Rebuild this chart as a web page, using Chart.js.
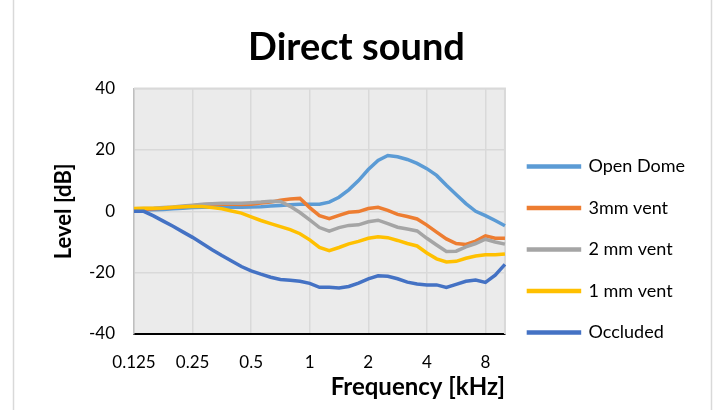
<!DOCTYPE html>
<html lang="en">
<head>
  <meta charset="UTF-8" />
  <title>Direct sound</title>
  <!-- Chart.js -->
  <script src="https://cdn.jsdelivr.net/npm/chart.js"></script>
  <style>
    html, body {
      margin: 0;
      padding: 0;
      background: #ffffff;
    }
    #wrap {
      width: 718px;
      height: 410px;
      position: relative;
    }
  </style>
</head>
<body>
  <div id="wrap">
    <canvas id="directChart"></canvas>
  </div>

  <script>
    // Frequencies in kHz, 1/6 octave steps
    const freqLabels = [
      0.125, 0.140, 0.157, 0.177, 0.198, 0.223,
      0.25, 0.281, 0.315, 0.354, 0.397, 0.445,
      0.5, 0.561, 0.63, 0.707, 0.794, 0.891,
      1, 1.12, 1.26, 1.41, 1.59, 1.78,
      2, 2.24, 2.52, 2.83, 3.17, 3.56,
      4, 4.49, 5.04, 5.66, 6.35, 7.13,
      8, 8.98, 10.08
    ];
    // labels shown on the x axis
    const tickLabels = [0.125, 0.25, 0.5, 1, 2, 4, 8];

    const seriesNames = ['Open Dome', '3mm vent', '2 mm vent', '1 mm vent', 'Occluded'];
    const seriesColors = ['#5B9BD5', '#ED7D31', '#A5A5A5', '#FFC000', '#4472C4'];

    // Level in dB
    const openDome = [
      0.3, 0.4, 0.5, 0.6, 0.8, 1.0, 1.2, 1.3, 1.3, 1.3, 1.3, 1.3, 1.4,
      1.5, 1.7, 1.9, 2.1, 2.3, 2.3, 2.3, 3.0, 4.6, 7.0, 10.0, 13.6, 16.6,
      18.2, 17.8, 16.9, 15.6, 13.9, 11.7, 8.5, 5.5, 2.5, 0.0, -1.4, -3.0, -4.7
    ];
    const vent3mm = [
      0.6, 0.6, 0.8, 1.0, 1.2, 1.5, 1.8, 2.1, 2.3, 2.4, 2.3, 2.2, 2.3,
      2.7, 3.0, 3.6, 4.0, 4.2, 1.2, -1.4, -2.4, -1.3, -0.3, -0.1, 0.9, 1.3,
      0.3, -1.0, -1.7, -2.5, -4.5, -6.8, -9.0, -10.5, -10.8, -9.7, -8.0, -8.8, -8.8
    ];
    const vent2mm = [
      0.8, 0.9, 1.0, 1.2, 1.4, 1.7, 2.0, 2.3, 2.5, 2.6, 2.6, 2.6, 2.8,
      3.0, 3.3, 3.2, 1.6, -0.4, -2.8, -5.3, -6.5, -5.3, -4.6, -4.4, -3.4, -2.9,
      -4.0, -5.2, -5.8, -6.4, -8.8, -11.0, -13.1, -13.0, -11.6, -10.5, -9.1, -10.0, -10.7
    ];
    const vent1mm = [
      0.9, 1.0, 1.0, 1.1, 1.3, 1.5, 1.6, 1.6, 1.2, 0.8, 0.1, -0.6, -1.8,
      -3.0, -4.0, -5.0, -6.0, -7.3, -9.3, -11.8, -12.8, -11.8, -10.6, -9.8, -8.8, -8.3,
      -8.6, -9.5, -10.5, -11.3, -13.6, -15.5, -16.5, -16.3, -15.3, -14.6, -14.2, -14.2, -13.9
    ];
    const occluded = [
      0.0, 0.0, -1.5, -3.2, -4.9, -6.7, -8.5, -10.5, -12.5, -14.4, -16.2, -18.0, -19.4,
      -20.5, -21.5, -22.2, -22.5, -22.8, -23.5, -24.8, -24.8, -25.0, -24.5, -23.4, -22.0, -21.0,
      -21.2, -22.0, -23.1, -23.7, -24.0, -24.0, -24.8, -23.8, -22.8, -22.4, -23.2, -20.8, -17.3
    ];
    const seriesValues = [openDome, vent3mm, vent2mm, vent1mm, occluded];

    const FONT = "Lato, 'Liberation Sans', sans-serif";

    // grey plot background, plot border and outer chart border
    const plotBackground = {
      id: 'plotBackground',
      beforeDraw(chart) {
        const { ctx, chartArea: a } = chart;
        ctx.save();
        ctx.fillStyle = '#ebebeb';
        ctx.fillRect(a.left, a.top, a.right - a.left, a.bottom - a.top);
        ctx.strokeStyle = '#d9d9d9';
        ctx.lineWidth = 1.5;
        ctx.beginPath();
        ctx.moveTo(13.5, 0);
        ctx.lineTo(13.5, chart.height);
        ctx.moveTo(711.5, 0);
        ctx.lineTo(711.5, chart.height);
        ctx.stroke();
        ctx.restore();
      },
      beforeDatasetsDraw(chart) {
        const { ctx, chartArea: a } = chart;
        ctx.save();
        ctx.strokeStyle = '#d9d9d9';
        ctx.lineWidth = 2;
        ctx.beginPath();
        ctx.moveTo(a.left, a.top);
        ctx.lineTo(a.right, a.top);
        ctx.lineTo(a.right, a.bottom);
        ctx.stroke();
        ctx.restore();
      }
    };

    const datasets = seriesNames.map((name, i) => ({
      label: name,
      data: seriesValues[i],
      borderColor: seriesColors[i],
      backgroundColor: seriesColors[i],
      borderWidth: 3.5,
      pointRadius: 0,
      tension: 0,
      order: seriesNames.length - i   // later series on top, like Excel
    }));

    const ctx = document.getElementById('directChart').getContext('2d');
    const directChart = new Chart(ctx, {
      type: 'line',
      data: {
        labels: freqLabels,
        datasets: datasets
      },
      options: {
        responsive: true,
        maintainAspectRatio: false,
        animation: false,
        layout: { padding: { left: 18, right: 23, top: 0, bottom: 0 } },
        plugins: {
          title: {
            display: true,
            text: 'Direct sound',
            color: '#000',
            font: { family: FONT, size: 38, weight: 'bold' },
            padding: { top: 25, bottom: 18 }
          },
          legend: {
            position: 'right',
            align: 'start',
            maxWidth: 300,
            title: {
              display: true,
              text: ' ',
              color: 'rgba(0,0,0,0)',
              font: { size: 10 },
              padding: { top: 122, bottom: 0 }
            },
            labels: {
              color: '#000',
              font: { family: FONT, size: 18 },
              boxWidth: 51,
              boxHeight: 1,
              padding: 23.5,
              sort: (a, b) => a.datasetIndex - b.datasetIndex
            }
          },
          tooltip: { enabled: false }
        },
        scales: {
          x: {
            type: 'category',
            offset: false,
            afterFit: (scale) => { scale.height = 76; },
            grid: { color: '#d9d9d9', lineWidth: 1.5, drawTicks: false },
            border: { color: '#000', width: 2 },
            ticks: {
              autoSkip: false,
              maxRotation: 0,
              padding: 18,
              color: '#000',
              font: { family: FONT, size: 17 },
              callback: function (val, idx) {
                const f = freqLabels[idx];
                return tickLabels.includes(f) ? String(f) : null;
              }
            },
            title: {
              display: true,
              text: 'Frequency [kHz]',
              align: 'end',
              color: '#000',
              font: { family: FONT, size: 24, weight: 'bold' },
              padding: { top: 0, bottom: 8 }
            }
          },
          y: {
            min: -40,
            max: 40,
            afterFit: (scale) => { scale.width = 116; },
            grid: { color: '#d9d9d9', lineWidth: 1.5, drawTicks: false },
            border: { color: '#bfbfbf', width: 1.5 },
            ticks: {
              stepSize: 20,
              padding: 19,
              color: '#000',
              font: { family: FONT, size: 17 }
            },
            title: {
              display: true,
              text: 'Level [dB]',
              color: '#000',
              font: { family: FONT, size: 22, weight: 'bold' },
              padding: { top: 33, bottom: 0 }
            }
          }
        }
      },
      plugins: [plotBackground]
    });
  </script>
</body>
</html>
